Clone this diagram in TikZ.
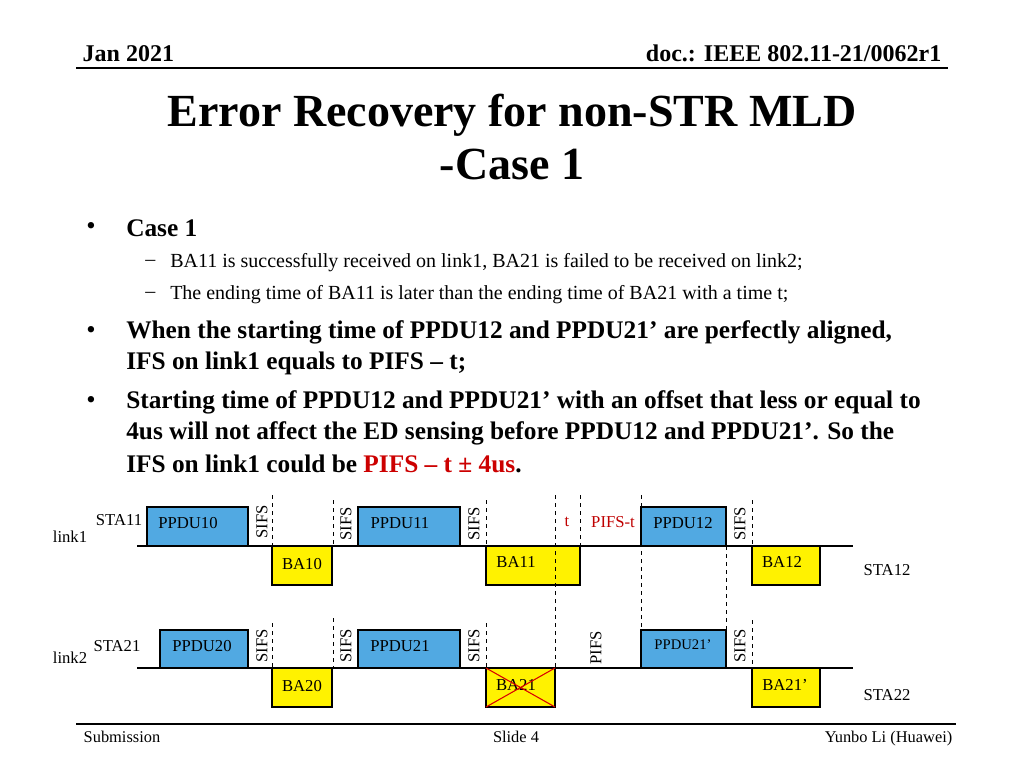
\documentclass[tikz,border=0pt]{standalone}
\usepackage{fontspec}
\setmainfont{Liberation Serif}
\begin{document}
\begin{tikzpicture}[x=0.75pt,y=-0.75pt,
  ppdu/.style={draw,thick,fill=cyan!75!blue!70,anchor=north west,inner sep=0pt},
  ba/.style={draw,thick,fill=yellow,anchor=north west,inner sep=0pt},
  lbl/.style={font=\fontsize{12.5}{14}\selectfont,inner sep=0pt},
  vl/.style={lbl,rotate=90},
  dl/.style={dashed,semithick},
  red lbl/.style={lbl,text=red!75!black}]
\useasboundingbox (0,0) rectangle (1024,768);
% header
\node[anchor=base west,font=\fontsize{18}{20}\bfseries\selectfont] (hd) at (78,61) {Jan 2021};
\node[anchor=base east,font=\fontsize{18}{20}\bfseries\selectfont] (doc) at (946,61) {doc.: IEEE 802.11-21/0062r1};
\draw[thick] (76,68) -- (948,68);
\node[anchor=base,font=\fontsize{34.5}{36}\bfseries\selectfont] (title) at (512,126) {Error Recovery for non-STR MLD};
\node[anchor=base,font=\fontsize{34.5}{36}\bfseries\selectfont] (title2) at (512,179) {-Case 1};
% bullets
\begin{scope}[every node/.style={anchor=west,inner sep=0pt}]
\node at (86,228) {\fontsize{20}{20}\selectfont•};
\node (b1) at (126,228) {\fontsize{19}{20}\bfseries\selectfont Case 1};
\node at (145,263) {\fontsize{15}{16}\selectfont –};
\node at (170,263) {\fontsize{15}{16}\selectfont BA11 is successfully received on link1, BA21 is failed to be received on link2;};
\node at (145,295) {\fontsize{15}{16}\selectfont –};
\node at (170,295) {\fontsize{15}{16}\selectfont The ending time of BA11 is later than the ending time of BA21 with a time t;};
\node at (86,332) {\fontsize{20}{20}\selectfont•};
\node at (126,332) {\fontsize{19}{20}\bfseries\selectfont When the starting time of PPDU12 and PPDU21’ are perfectly aligned,};
\node at (126,363) {\fontsize{19}{20}\bfseries\selectfont IFS on link1 equals to PIFS – t;};
\node at (86,402) {\fontsize{20}{20}\selectfont•};
\node at (126,402) {\fontsize{19}{20}\bfseries\selectfont Starting time of PPDU12 and PPDU21’ with an offset that less or equal to};
\node at (126,433) {\fontsize{19}{20}\bfseries\selectfont 4us will not affect the ED sensing before PPDU12 and PPDU21’. So the};
\node at (126,464) {\fontsize{19}{20}\bfseries\selectfont IFS on link1 could be \textcolor{red!80!black}{PIFS – t ± 4us}.};
\end{scope}
% link1
\draw[thick] (137,546) -- (853,546);
\draw[ppdu] (147,507) rectangle (248,546);
\draw[ppdu] (358,507) rectangle (460,546);
\draw[ppdu] (641,507) rectangle (726,546);
\draw[ba] (272,546) rectangle (332,585);
\draw[ba] (486,546) rectangle (580,585);
\draw[ba] (752,546) rectangle (820,585);
\node[lbl] (p10) at (188,523) {PPDU10};
\node[lbl] (p11) at (400,523) {PPDU11};
\node[lbl] (p12) at (683,523) {PPDU12};
\node[lbl] (a10) at (302,564) {BA10};
\node[lbl] (a11) at (516,562) {BA11};
\node[lbl] (a12) at (782,562) {BA12};
\node[lbl] (s11) at (119,520) {STA11};
\node[lbl] (l1) at (70,537) {link1};
\node[lbl] (s12) at (887,570) {STA12};
\node[vl] at (262,522) {SIFS};
\node[vl] at (346,524) {SIFS};
\node[vl] at (474,524) {SIFS};
\node[vl] at (740,524) {SIFS};
\node[red lbl] (t) at (567,522) {t};
\node[red lbl] (pt) at (613,522) {PIFS-t};
% link2
\draw[thick] (137,668) -- (853,668);
\draw[ppdu] (160,630) rectangle (248,668);
\draw[ppdu] (358,630) rectangle (460,668);
\draw[ppdu] (641,630) rectangle (726,668);
\draw[ba] (272,668) rectangle (332,707);
\draw[ba] (486,668) rectangle (555,707);
\draw[ba] (752,668) rectangle (820,707);
\node[lbl] (p20) at (202,646) {PPDU20};
\node[lbl] (p21) at (400,646) {PPDU21};
\node[lbl,font=\fontsize{11}{12}\selectfont] (p21b) at (683,645) {PPDU21’};
\node[lbl] (a20) at (302,686) {BA20};
\node[lbl] (a21) at (516,685) {BA21};
\node[lbl] (a21b) at (785,685) {BA21’};
\draw[red!85!black,thick] (486,668) -- (555,707) (486,707) -- (555,668);
\node[lbl] (s21) at (117,646) {STA21};
\node[lbl] (l2) at (70,658) {link2};
\node[lbl] (s22) at (887,695) {STA22};
\node[vl] at (262,646) {SIFS};
\node[vl] at (346,646) {SIFS};
\node[vl] at (474,646) {SIFS};
\node[vl] at (596,648) {PIFS};
\node[vl] at (740,646) {SIFS};
% dashed
\draw[dl] (272,495) -- (272,546);
\draw[dl] (333,500) -- (333,546);
\draw[dl] (486,500) -- (486,546);
\draw[dl] (555,495) -- (555,668);
\draw[dl] (580,495) -- (580,546);
\draw[dl] (641,495) -- (641,630);
\draw[dl] (726,546) -- (726,630);
\draw[dl] (752,500) -- (752,546);
\draw[dl] (272,623) -- (272,668);
\draw[dl] (333,618) -- (333,668);
\draw[dl] (486,623) -- (486,668);
\draw[dl] (752,620) -- (752,668);
% footer
\draw[thick] (76,724) -- (956,724);
\node[anchor=base west,font=\fontsize{12.3}{13}\selectfont] (sub) at (79,742) {Submission};
\node[anchor=base,font=\fontsize{12.3}{13}\selectfont] (sl) at (516,742) {Slide 4};
\node[anchor=base east,font=\fontsize{12.3}{13}\selectfont] (au) at (957,742) {Yunbo Li (Huawei)};
\end{tikzpicture}
\end{document}
